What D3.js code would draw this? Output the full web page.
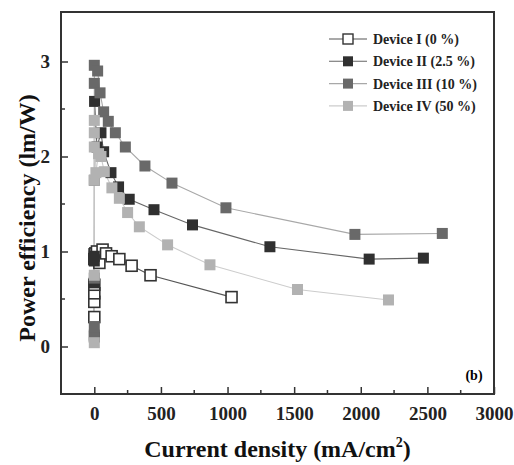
<!DOCTYPE html>
<html lang="en">
<head>
    <meta charset="UTF-8">
    <title>Power efficiency vs current density</title>
    <script src="https://d3js.org/d3.v7.min.js"></script>
    <style>
        body { margin: 0; padding: 0; background: #fff; }
        svg { display: block; font-family: "Liberation Serif", "Times New Roman", serif; }
        .tick-label { font-size: 19px; font-weight: bold; fill: #222; }
        .axis-title { font-size: 24px; font-weight: bold; fill: #111; }
        .legend-text { font-size: 14px; font-weight: bold; fill: #222; }
    </style>
</head>
<body>
<div id="chart"></div>
<script>
    // Data (current density mA/cm2, power efficiency lm/W)
    const seriesNames = ["Device I (0 %)", "Device II (2.5 %)", "Device III (10 %)", "Device IV (50 %)"];

    const dev1X = [0, 0, 0, 0, 0, 2, 8, 20, 38, 62, 88, 130, 188, 280, 422, 1030];
    const dev1Y = [0.31, 0.47, 0.56, 0.65, 0.92, 0.97, 0.98, 1.0, 0.88, 1.02, 0.98, 0.95, 0.92, 0.85, 0.75, 0.52];

    const dev2X = [0, 0, 0, 0, 2, 20, 50, 70, 125, 182, 262, 448, 737, 1318, 2063, 2470];
    const dev2Y = [0.1, 0.67, 0.9, 0.95, 2.58, 2.1, 2.25, 2.05, 1.83, 1.68, 1.55, 1.44, 1.28, 1.05, 0.92, 0.93];

    const dev3X = [0, 0, 0, 0, 0, 0, 25, 43, 70, 105, 158, 233, 380, 583, 988, 1956, 2612];
    const dev3Y = [0.12, 0.21, 0.72, 1.75, 2.77, 2.96, 2.9, 2.67, 2.47, 2.37, 2.25, 2.1, 1.9, 1.72, 1.46, 1.18, 1.19];

    const dev4X = [0, 0, 0, 0, 0, 0, 12, 32, 50, 75, 132, 188, 250, 338, 550, 868, 1525, 2208];
    const dev4Y = [0.04, 0.75, 1.75, 2.1, 2.25, 2.38, 1.83, 2.03, 2.0, 1.84, 1.67, 1.56, 1.41, 1.26, 1.07, 0.86, 0.6, 0.49];

    const xMajorTicks = [0, 500, 1000, 1500, 2000, 2500, 3000];
    const xMinorTicks = [250, 750, 1250, 1750, 2250, 2750];
    const yMajorTicks = [0, 1, 2, 3];
    const yMinorTicks = [0.5, 1.5, 2.5];

    const fills = ["#ffffff", "#303030", "#696969", "#b2b2b2"];
    const strokes = ["#333333", "#303030", "#696969", "#b2b2b2"];
    const lineColors = ["#555555", "#666666", "#a8a8a8", "#cccccc"];

    const series = [
        { name: seriesNames[0], x: dev1X, y: dev1Y },
        { name: seriesNames[1], x: dev2X, y: dev2Y },
        { name: seriesNames[2], x: dev3X, y: dev3Y },
        { name: seriesNames[3], x: dev4X, y: dev4Y }
    ];

    const W = 514, H = 465;
    const plot = { left: 61, right: 494, top: 12, bottom: 394 };

    const svg = d3.select("#chart").append("svg")
        .attr("width", W)
        .attr("height", H);

    const xScale = d3.scaleLinear()
        .domain([-250, 3000])
        .range([plot.left, plot.right]);

    const yScale = d3.scaleLinear()
        .domain([-0.5, 3.5])
        .range([plot.bottom, 14]);

    // lines
    const line = d3.line()
        .x(d => xScale(d[0]))
        .y(d => yScale(d[1]));

    series.forEach((s, i) => {
        const pts = s.x.map((v, k) => [v, s.y[k]]);
        svg.append("path")
            .datum(pts)
            .attr("d", line)
            .attr("fill", "none")
            .attr("stroke", lineColors[i])
            .attr("stroke-width", 1.1);
    });

    // markers
    const ms = 11;
    series.forEach((s, i) => {
        const pts = s.x.map((v, k) => [v, s.y[k]]);
        svg.append("g").selectAll("rect")
            .data(pts)
            .enter()
            .append("rect")
            .attr("x", d => xScale(d[0]) - ms / 2)
            .attr("y", d => yScale(d[1]) - ms / 2)
            .attr("width", ms)
            .attr("height", ms)
            .attr("fill", fills[i])
            .attr("stroke", i === 0 ? strokes[i] : "none")
            .attr("stroke-width", 1.6);
    });

    // frame
    svg.append("rect")
        .attr("x", plot.left)
        .attr("y", plot.top)
        .attr("width", plot.right - plot.left)
        .attr("height", plot.bottom - plot.top)
        .attr("fill", "none")
        .attr("stroke", "#333")
        .attr("stroke-width", 2);

    // x axis (inward ticks)
    const xAxis = svg.append("g").attr("transform", `translate(0,${plot.bottom})`);
    xAxis.call(d3.axisBottom(xScale).tickValues(xMajorTicks).tickSize(-7).tickSizeOuter(0).tickFormat(d3.format("d")));
    xAxis.select(".domain").remove();
    xAxis.selectAll(".tick line").attr("stroke", "#333").attr("stroke-width", 1.5);
    xAxis.selectAll(".tick text")
        .attr("class", "tick-label")
        .attr("y", 13)
        .attr("dy", "0.71em")
        .style("font-family", "Liberation Serif, serif");

    svg.append("g").selectAll("line")
        .data(xMinorTicks)
        .enter()
        .append("line")
        .attr("x1", d => xScale(d))
        .attr("x2", d => xScale(d))
        .attr("y1", plot.bottom)
        .attr("y2", plot.bottom - 4)
        .attr("stroke", "#333")
        .attr("stroke-width", 1.5);

    // y axis
    const yAxis = svg.append("g").attr("transform", `translate(${plot.left},0)`);
    yAxis.call(d3.axisLeft(yScale).tickValues(yMajorTicks).tickSize(-7).tickSizeOuter(0).tickFormat(d3.format("d")));
    yAxis.select(".domain").remove();
    yAxis.selectAll(".tick line").attr("stroke", "#333").attr("stroke-width", 1.5);
    yAxis.selectAll(".tick text")
        .attr("class", "tick-label")
        .attr("x", -11)
        .style("font-family", "Liberation Serif, serif");

    svg.append("g").selectAll("line")
        .data(yMinorTicks)
        .enter()
        .append("line")
        .attr("x1", plot.left)
        .attr("x2", plot.left + 4)
        .attr("y1", d => yScale(d))
        .attr("y2", d => yScale(d))
        .attr("stroke", "#333")
        .attr("stroke-width", 1.5);

    // axis titles
    const xTitle = svg.append("text")
        .attr("class", "axis-title")
        .attr("x", (plot.left + plot.right) / 2)
        .attr("y", 457)
        .attr("text-anchor", "middle");
    xTitle.append("tspan").text("Current density (mA/cm");
    xTitle.append("tspan").attr("dy", -10).style("font-size", "14px").text("2");
    xTitle.append("tspan").attr("dy", 10).text(")");

    svg.append("text")
        .attr("class", "axis-title")
        .attr("transform", "translate(35,218) rotate(-90)")
        .attr("text-anchor", "middle")
        .text("Power efficiency (lm/W)");

    // panel label
    svg.append("text")
        .attr("x", 474)
        .attr("y", 380)
        .attr("text-anchor", "middle")
        .style("font-size", "14px")
        .style("font-weight", "bold")
        .text("(b)");

    // legend
    const legend = svg.selectAll(".legend")
        .data(series)
        .enter()
        .append("g")
        .attr("class", "legend")
        .attr("transform", (d, i) => `translate(329,${39 + i * 22.3})`);

    legend.append("line")
        .attr("x1", 0)
        .attr("x2", 38)
        .attr("y1", 0)
        .attr("y2", 0)
        .attr("stroke", (d, i) => lineColors[i])
        .attr("stroke-width", 1.1);

    legend.append("rect")
        .attr("x", 14)
        .attr("y", -5)
        .attr("width", 10)
        .attr("height", 10)
        .attr("fill", (d, i) => fills[i])
        .attr("stroke", (d, i) => i === 0 ? strokes[i] : "none")
        .attr("stroke-width", 1.4);

    legend.append("text")
        .attr("class", "legend-text")
        .attr("x", 44)
        .attr("y", 0)
        .attr("dy", "0.35em")
        .text(d => d.name);
</script>
</body>
</html>
